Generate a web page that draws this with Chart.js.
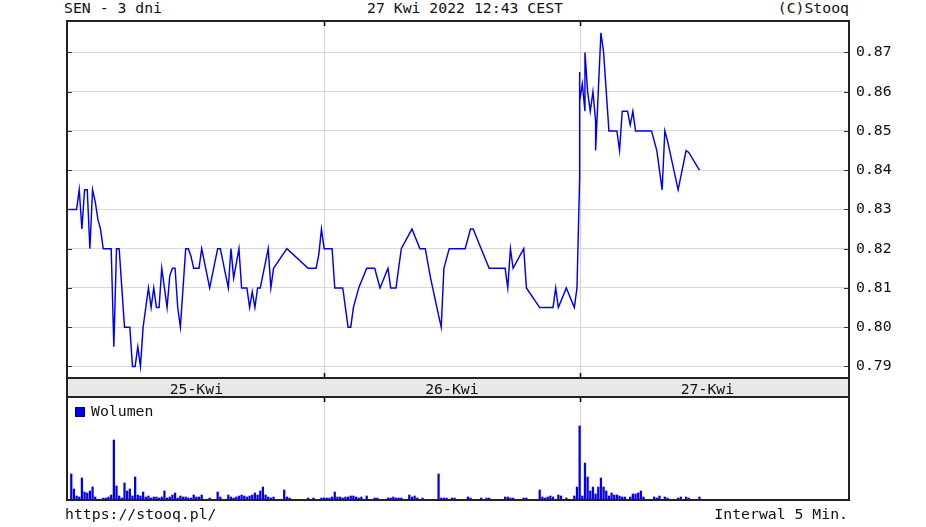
<!DOCTYPE html>
<html><head><meta charset="utf-8">
<script src="https://cdn.jsdelivr.net/npm/chart.js@4.4.1/dist/chart.umd.min.js"></script>
<style>
html,body{margin:0;padding:0;background:#fff;}
body{width:926px;height:527px;position:relative;overflow:hidden;font-family:'DejaVu Sans Mono',monospace;font-size:14.8px;color:#111;}
.t{position:absolute;white-space:nowrap;line-height:16px;}
#cp{position:absolute;left:0;top:0;}
#cv{position:absolute;left:0;top:390px;}
.sq{display:inline-block;width:8px;height:8px;background:#0000ee;border:1px solid #000080;margin-right:6px;vertical-align:-1px;}
</style></head><body>
<div class="t" style="left:64px;top:0px">SEN - 3 dni</div>
<div class="t" style="left:367px;top:0px">27 Kwi 2022 12:43 CEST</div>
<div class="t" style="right:77px;top:0px">(C)Stooq</div>
<canvas id="cp" width="926" height="398"></canvas>
<canvas id="cv" width="926" height="120"></canvas>
<div class="t" style="left:75px;top:403px"><span class="sq"></span>Wolumen</div>
<div class="t" style="left:65px;top:506px">https://stooq.pl/</div>
<div class="t" style="right:78px;top:506px">Interwal 5 Min.</div>
<script>
// trading minutes counted from 25-Kwi 09:00 (480 min per session)
const priceTimes = [0,15,20,25,30,35,40,45,50,55,60,65,80,85,90,95,100,105,115,120,125,130,135,140,145,150,155,160,165,170,175,180,185,190,195,200,205,210,215,220,225,230,235,245,250,265,280,285,300,305,310,320,325,335,340,345,350,355,360,375,380,385,390,410,450,465,470,475,480,
 495,500,515,525,530,535,545,560,575,585,600,605,615,625,645,660,670,680,695,700,705,715,745,755,760,775,790,820,825,830,835,855,860,885,910,915,920,935,950,955,
 960,960,960,965,970,970,975,980,985,990,990,995,1000,1005,1010,1015,1030,1035,1040,1050,1055,1060,1065,1095,1105,1115,1120,1125,1145,1160,1165,1185];
const prices = [0.83,0.83,0.835,0.825,0.835,0.835,0.82,0.835,0.832,0.8275,0.825,0.82,0.82,0.795,0.82,0.82,0.81,0.80,0.80,0.79,0.79,0.795,0.79,0.80,0.805,0.81,0.805,0.81,0.805,0.805,0.815,0.81,0.805,0.813,0.815,0.815,0.805,0.80,0.81,0.82,0.82,0.818,0.815,0.815,0.82,0.81,0.82,0.82,0.81,0.82,0.8125,0.82,0.81,0.81,0.805,0.809,0.805,0.81,0.81,0.82,0.81,0.815,0.816,0.82,0.815,0.815,0.8185,0.825,0.82,
 0.82,0.81,0.81,0.80,0.80,0.805,0.81,0.815,0.815,0.81,0.815,0.81,0.81,0.82,0.825,0.82,0.82,0.8125,0.803,0.80,0.815,0.82,0.82,0.825,0.825,0.82,0.815,0.815,0.81,0.82,0.815,0.82,0.81,0.805,0.805,0.81,0.805,0.81,0.805,0.81,
 0.838,0.865,0.8575,0.862,0.855,0.87,0.86,0.855,0.86,0.8525,0.845,0.86,0.875,0.87,0.86,0.85,0.85,0.845,0.855,0.855,0.8515,0.855,0.85,0.85,0.845,0.835,0.85,0.8475,0.835,0.845,0.8445,0.84];
const volTimes = [5,10,15,20,25,30,35,40,45,50,65,70,75,80,85,90,95,100,105,110,115,120,125,130,135,140,145,150,155,160,165,170,175,180,185,190,195,200,205,210,215,220,225,230,235,240,245,250,265,280,285,300,305,310,315,320,325,330,335,340,345,350,355,360,365,370,375,380,385,405,410,415,450,460,475,
 480,485,490,495,500,505,510,515,520,525,530,535,540,545,550,560,575,580,600,605,610,615,620,625,640,645,650,655,665,695,700,705,710,720,725,750,755,775,785,790,820,825,830,835,855,860,885,890,895,900,905,910,920,925,935,950,955,
 960,965,970,975,980,985,990,995,1000,1005,1010,1015,1020,1025,1030,1035,1040,1045,1055,1060,1065,1070,1075,1080,1100,1105,1110,1120,1125,1145,1150,1160,1165,1185];
const volumes = [26,11,4,3,22,8,7,9,13,3,2,2,3,5,60,14,4,2,17,9,11,4,23,5,4,8,3,4,2,3,3,2,3,9,2,3,5,7,2,4,3,3,2,2,5,3,3,5,2,8,3,5,3,2,3,4,5,4,3,4,5,7,5,9,13,5,3,2,3,10,3,2,2,2,2,
 2,2,2,3,8,3,3,2,3,3,4,4,3,2,3,4,2,2,2,2,3,2,2,2,5,3,4,2,2,26,2,2,2,2,2,3,2,2,2,2,3,3,2,2,2,2,10,3,2,3,4,3,5,4,2,4,13,
 74,4,37,23,9,13,6,13,22,13,9,4,7,5,5,4,3,3,3,6,6,7,9,3,3,2,4,3,2,2,3,3,2,3];
const yTicks = [0.79,0.80,0.81,0.82,0.83,0.84,0.85,0.86,0.87];
const dayLabels = ['25-Kwi','26-Kwi','27-Kwi'];
const dayCenters = [240,720,1200];
const daySeparators = [480,960];

const FONT = {family:"'DejaVu Sans Mono', monospace", size:14.8};
const X_MIN = -3, X_MAX = 1466;

function drawSeparators(chart){
  const {ctx, chartArea:a, scales} = chart;
  ctx.save();
  ctx.strokeStyle = '#d4d4d4'; ctx.lineWidth = 1;
  daySeparators.forEach(v=>{
    const x = Math.round(scales.x.getPixelForValue(v)) + 0.5;
    ctx.beginPath(); ctx.moveTo(x, a.top); ctx.lineTo(x, a.bottom); ctx.stroke();
  });
  ctx.restore();
}
function drawSepTicks(chart, top, bottom){
  const {ctx, chartArea:a, scales} = chart;
  ctx.save(); ctx.strokeStyle = '#000'; ctx.lineWidth = 1.5;
  daySeparators.forEach(v=>{
    const x = Math.round(scales.x.getPixelForValue(v)) + 0.5;
    if (top){ ctx.beginPath(); ctx.moveTo(x, a.top); ctx.lineTo(x, a.top+5); ctx.stroke(); }
    if (bottom){ ctx.beginPath(); ctx.moveTo(x, a.bottom-5); ctx.lineTo(x, a.bottom); ctx.stroke(); }
  });
  ctx.restore();
}

const pricePanel = {
  id:'pricePanel',
  beforeDraw(chart){
    const {ctx, chartArea:a} = chart;
    ctx.save(); ctx.fillStyle = '#e8e8e8';
    ctx.fillRect(a.left, a.bottom, a.right-a.left, 19);
    ctx.restore();
  },
  beforeDatasetsDraw(chart){ drawSeparators(chart); },
  afterDraw(chart){
    const {ctx, chartArea:a, scales} = chart;
    ctx.save();
    ctx.strokeStyle = '#333'; ctx.lineWidth = 1;
    yTicks.forEach(v=>{
      const y = Math.round(scales.y.getPixelForValue(v)) + 0.5;
      ctx.beginPath(); ctx.moveTo(a.left, y); ctx.lineTo(a.left+5, y); ctx.stroke();
      ctx.beginPath(); ctx.moveTo(a.right-5, y); ctx.lineTo(a.right, y); ctx.stroke();
    });
    ctx.strokeStyle = '#222'; ctx.lineWidth = 2;
    ctx.strokeRect(a.left, a.top, a.right-a.left, a.bottom-a.top);
    ctx.strokeRect(a.left, a.bottom, a.right-a.left, 19);
    ctx.restore();
    drawSepTicks(chart, true, true);
  }
};
const volPanel = {
  id:'volPanel',
  beforeDatasetsDraw(chart){ drawSeparators(chart); },
  afterDraw(chart){
    const {ctx, chartArea:a} = chart;
    ctx.save(); ctx.strokeStyle = '#222'; ctx.lineWidth = 2;
    ctx.strokeRect(a.left, a.top, a.right-a.left, a.bottom-a.top);
    ctx.restore();
    drawSepTicks(chart, true, false);
  }
};

new Chart(document.getElementById('cp'), {
  type:'line',
  data:{datasets:[{data: priceTimes.map((t,i)=>({x:t, y:prices[i]})), borderColor:'#0000f0', borderWidth:1.45, pointRadius:0, tension:0, fill:false}]},
  options:{
    responsive:false, animation:false,
    layout:{padding:{left:67, top:21, right:0, bottom:0}},
    plugins:{legend:{display:false}, tooltip:{enabled:false}},
    scales:{
      x:{type:'linear', min:X_MIN, max:X_MAX,
        afterFit(s){ s.height = 20; },
        afterBuildTicks(s){ s.ticks = dayCenters.map(v=>({value:v})); },
        ticks:{callback:(v)=>dayLabels[dayCenters.indexOf(v)], color:'#111', font:FONT, padding:-5, maxRotation:0, autoSkip:false},
        grid:{display:false}, border:{display:false}},
      y:{position:'right', min:0.78705, max:0.878,
        afterFit(s){ s.width = 77; },
        afterBuildTicks(s){ s.ticks = yTicks.map(v=>({value:v})); },
        ticks:{callback:(v)=>v.toFixed(2), padding:7, color:'#111', font:FONT},
        grid:{color:'#d9d9d9', drawTicks:false, lineWidth:1}, border:{display:false}}
    }
  },
  plugins:[pricePanel]
});

new Chart(document.getElementById('cv'), {
  type:'bar',
  data:{datasets:[{data: volTimes.map((t,i)=>({x:t, y:volumes[i]})), backgroundColor:'#0000ee', barThickness:1.6, borderWidth:0}]},
  options:{
    responsive:false, animation:false,
    layout:{padding:{left:67, right:77, top:7, bottom:10}},
    plugins:{legend:{display:false}, tooltip:{enabled:false}},
    scales:{
      x:{type:'linear', min:X_MIN, max:X_MAX, offset:false, display:false},
      y:{min:0, max:103, display:false}
    }
  },
  plugins:[volPanel]
});
</script>
</body></html>
